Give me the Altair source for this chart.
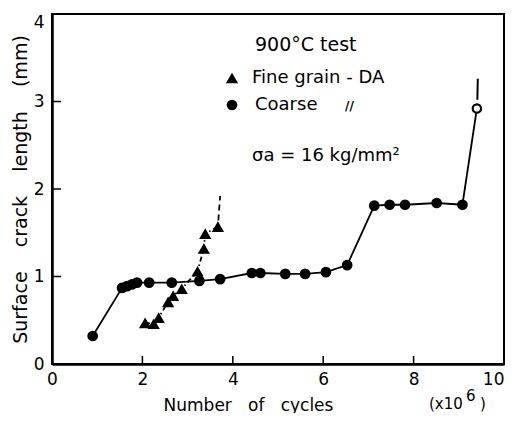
import altair as alt
import pandas as pd

# Coarse grain (circles), x in 10^6 cycles, y in mm
coarse_x = [0.90, 1.55, 1.66, 1.77, 1.88, 2.15, 2.65, 3.26, 3.72, 4.42, 4.61, 5.16, 5.60, 6.06, 6.53, 7.13, 7.47, 7.81, 8.51, 9.08, 9.40]
coarse_y = [0.32, 0.87, 0.89, 0.91, 0.93, 0.93, 0.93, 0.95, 0.97, 1.04, 1.04, 1.03, 1.03, 1.05, 1.13, 1.81, 1.82, 1.82, 1.84, 1.82, 2.92]
coarse_open = [False] * 20 + [True]
coarse_ext_x = [9.41, 9.42]
coarse_ext_y = [3.02, 3.26]

# Fine grain - DA (triangles)
fine_x = [2.06, 2.25, 2.36, 2.57, 2.68, 2.87, 3.22, 3.36, 3.39, 3.67]
fine_y = [0.47, 0.46, 0.53, 0.71, 0.78, 0.86, 1.06, 1.32, 1.49, 1.57]
fine_ext_x = [3.68, 3.72]
fine_ext_y = [1.64, 1.92]

x_tick_values = [0, 2, 4, 6, 8, 10]
y_tick_values = [0, 1, 2, 3, 4]
x_inner_ticks = [2, 4, 6, 8]
y_inner_ticks = [1, 2, 3]

FONT = "DejaVu Sans"
W, H = 452, 350

coarse = pd.DataFrame({"x": coarse_x, "y": coarse_y, "open": coarse_open})
coarse_ext = pd.DataFrame({"x": coarse_ext_x, "y": coarse_ext_y})
fine = pd.DataFrame({"x": fine_x, "y": fine_y})
fine_ext = pd.DataFrame({"x": fine_ext_x, "y": fine_ext_y})

xs = alt.Scale(domain=[0, 10], nice=False, zero=False)
ys = alt.Scale(domain=[0, 4], nice=False, zero=False)

NB = "\u00a0"
x_axis = alt.Axis(values=x_tick_values, format="d", ticks=False, grid=False, labelFlush=False,
                  labelAlign={"condition": {"test": "datum.value >= 10", "value": "right"}, "value": "center"},
                  labelFontSize=17, labelPadding=7, labelColor="black", labelFont=FONT,
                  domainColor="black", domainWidth=2.5,
                  title="Number" + NB * 3 + "of" + NB * 3 + "cycles", titleFont=FONT,
                  titleFontSize=17, titleFontWeight="normal", titleColor="black",
                  titleX=196, titleY=41, titleAlign="center", titleBaseline="middle")
y_axis = alt.Axis(values=y_tick_values, format="d", ticks=False, grid=False, labelFlush=False,
                  labelBaseline={"condition": {"test": "datum.value >= 4", "value": "top"}, "value": "middle"},
                  labelFontSize=17, labelPadding=8, labelColor="black", labelFont=FONT,
                  domainColor="black", domainWidth=2.5,
                  title="Surface" + NB * 4 + "crack" + NB * 4 + "length" + NB * 4 + "(mm)",
                  titleFont=FONT, titleFontSize=19, titleFontWeight="normal", titleColor="black",
                  titleX=-32, titleY=175, titleAngle=270, titleAlign="center", titleBaseline="middle")

X = alt.X("x:Q", scale=xs, axis=x_axis)
Y = alt.Y("y:Q", scale=ys, axis=y_axis)
Xn = alt.X("x:Q", scale=xs)
Yn = alt.Y("y:Q", scale=ys)

base_axes = alt.Chart(coarse).mark_line(color="black", strokeWidth=1.8).encode(x=X, y=Y)

fine_line = alt.Chart(fine).mark_line(color="black", strokeWidth=1.8, strokeDash=[5, 3, 1.5, 3]).encode(x=Xn, y=Yn)
fine_ext_line = alt.Chart(fine_ext).mark_line(color="black", strokeWidth=1.8, strokeDash=[6, 4]).encode(x=Xn, y=Yn)
coarse_ext_line = alt.Chart(coarse_ext).mark_line(color="black", strokeWidth=2).encode(x=Xn, y=Yn)

fine_pts = alt.Chart(fine).mark_point(shape="triangle-up", filled=True, color="black", size=150, opacity=1).encode(x=Xn, y=Yn)
coarse_pts = alt.Chart(coarse).transform_filter("!datum.open").mark_circle(color="black", size=115, opacity=1).encode(x=Xn, y=Yn)
coarse_open_pts = alt.Chart(coarse).transform_filter("datum.open").mark_point(
    shape="circle", filled=True, fill="white", stroke="black", strokeWidth=2.2, size=70, opacity=1).encode(x=Xn, y=Yn)

xt = alt.Chart(pd.DataFrame({"v": x_inner_ticks})).mark_rule(color="black", strokeWidth=1.5).encode(
    x=alt.X("v:Q", scale=xs), y=alt.value(H), y2=alt.value(H - 8))
yt = alt.Chart(pd.DataFrame({"v": y_inner_ticks})).mark_rule(color="black", strokeWidth=1.5).encode(
    y=alt.Y("v:Q", scale=ys), x=alt.value(0), x2=alt.value(9))

one = alt.Data(values=[{"a": 1}])

def txt(s, x, y, size=18, align="left", baseline="middle", weight="normal"):
    return alt.Chart(one).mark_text(text=s, font=FONT, fontSize=size, color="black", fontWeight=weight,
                                    align=align, baseline=baseline).encode(x=alt.value(x), y=alt.value(y))

leg_tri = alt.Chart(one).mark_point(shape="triangle-up", filled=True, color="black", size=150, opacity=1).encode(
    x=alt.value(180), y=alt.value(64))
leg_cir = alt.Chart(one).mark_circle(color="black", size=115, opacity=1).encode(x=alt.value(180), y=alt.value(91))

texts = [
    txt("900°C test", 203, 31, size=19),
    txt("Fine grain - DA", 200, 64),
    txt("Coarse", 203, 91),
    txt("//", 293, 92, size=12, weight="bold"),
    txt("\u03c3a = 16 kg/mm\u00b2", 200, 142),
    txt("(x10", 377, 390, size=15),
    txt("6", 414, 382, size=15),
    txt(")", 428, 390, size=15),
]

chart = alt.layer(
    base_axes, fine_line, fine_ext_line, coarse_ext_line, xt, yt,
    fine_pts, coarse_pts, coarse_open_pts, leg_tri, leg_cir, *texts
).properties(
    width=W, height=H,
    padding={"left": 44, "top": 6, "right": 2, "bottom": 49},
    autosize=alt.AutoSizeParams(type="none"),
    background="white",
).configure_view(stroke="black", strokeWidth=2)

chart.save("out.html", embed_options={"renderer": "svg", "actions": False})
